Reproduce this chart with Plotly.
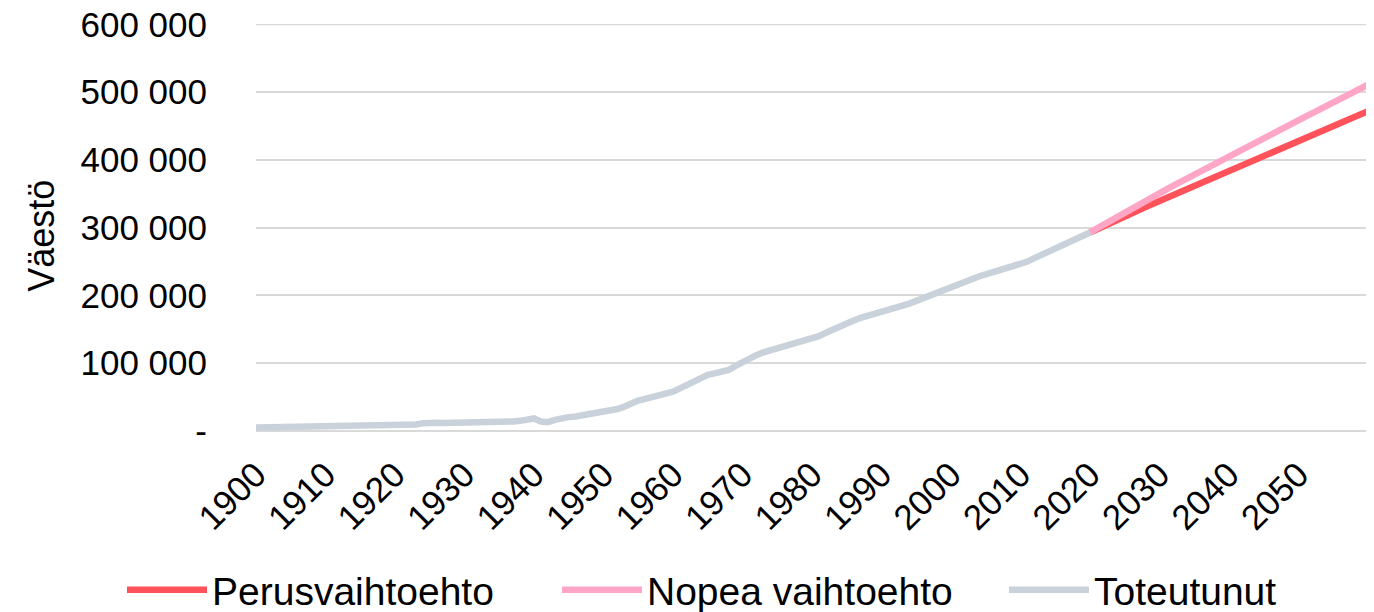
import plotly.graph_objects as go

# ---- data ----
years_hist = list(range(1900, 2021))
toteutunut = [
    5300, 5500, 5700, 5900, 6100, 6300, 6500, 6700, 7000, 7200,          # 1900-1909
    7500, 7800, 8000, 8200, 8400, 8600, 8900, 9300, 9200, 9000,          # 1910-1919
    8800, 8500, 8600, 9500, 11500, 12500, 12200, 11800, 11800, 12000,    # 1920-1929
    12300, 12000, 11800, 11700, 11900, 12300, 13000, 14000, 15000, 16500,  # 1930-1939
    18500, 14000, 13000, 16500, 19500, 20500, 21500, 23000, 24500, 26500,  # 1940-1949
    28500, 30500, 32500, 36000, 41000, 45000, 47500, 50000, 51500, 54000,  # 1950-1959
    58000, 63000, 68000, 74000, 79000, 83000, 85000, 87000, 90000, 96000,  # 1960-1969
    102000, 108000, 112000, 116000, 119000, 122000, 125000, 128000, 130000, 132500,  # 1970-1979
    136000, 140000, 145000, 150000, 154000, 158000, 163000, 167000, 170000, 172500,  # 1980-1989
    174500, 177500, 181000, 185000, 188000, 192000, 196000, 200000, 205000, 209000,  # 1990-1999
    214000, 218000, 221000, 225000, 228000, 231000, 234000, 237000, 240000, 243000,  # 2000-2009
    246000, 250000, 255000, 260000, 265000, 270000, 275000, 279000, 284000, 289000,  # 2010-2019
    293000,                                                              # 2020
]

years_proj = list(range(2020, 2061))
perusvaihtoehto = [
    293000, 298000, 303000, 308000, 312500, 317000, 321500, 326000, 330500, 335000,
    339500, 344000, 348500, 353000, 357000, 361500, 366000, 370500, 375000, 379500,
    384000, 388500, 393000, 397500, 402000, 406500, 411000, 415500, 420000, 424000,
    428500, 433000, 437000, 441500, 446000, 450000, 454500, 459000, 463000, 467500,
    472000,
]
nopea_vaihtoehto = [
    293000, 299000, 305000, 311000, 317000, 323000, 329000, 334500, 340000, 345500,
    351000, 356500, 362000, 367500, 373000, 378500, 384000, 389500, 395000, 400500,
    406000, 411000, 416500, 422000, 427000, 432500, 437500, 443000, 448000, 453500,
    458500, 464000, 469000, 474500, 479500, 485000, 490000, 495500, 500500, 506000,
    511000,
]

y_tickvals = [0, 100000, 200000, 300000, 400000, 500000, 600000]
y_ticktext = ["-", "100 000", "200 000", "300 000", "400 000", "500 000", "600 000"]
x_tickvals = list(range(1900, 2060, 10))
x_ticktext = [str(v) for v in x_tickvals]

FONT = "Liberation Sans, Arial, sans-serif"
# page body has an 8px margin, so the figure is drawn 8px smaller
W, H = 1366, 604
GRID = "#D9D9D9"

fig = go.Figure()
fig.add_trace(go.Scatter(x=years_proj, y=perusvaihtoehto, mode="lines",
                         name="Perusvaihtoehto", legend="legend",
                         line=dict(color="#FF525A", width=6.5)))
fig.add_trace(go.Scatter(x=years_proj, y=nopea_vaihtoehto, mode="lines",
                         name="Nopea vaihtoehto", legend="legend2",
                         line=dict(color="#FFA6C6", width=6.5)))
fig.add_trace(go.Scatter(x=years_hist, y=toteutunut, mode="lines",
                         name="Toteutunut", legend="legend3",
                         line=dict(color="#C9D2DA", width=6.5)))


def leg(xpx):
    return dict(orientation="h", xref="container", x=xpx / W, xanchor="left",
                yref="container", y=22 / H, yanchor="middle",
                font=dict(size=39), itemwidth=80, bgcolor="rgba(0,0,0,0)")


fig.update_layout(
    width=W, height=H,
    margin=dict(l=248, r=6, t=16, b=181, autoexpand=False),
    paper_bgcolor="white", plot_bgcolor="white",
    font=dict(family=FONT, size=35, color="#000000"),
    showlegend=True,
    legend=leg(114), legend2=leg(549), legend3=leg(996),
    annotations=[dict(text="Väestö", xref="paper", yref="paper",
                      x=-0.1924, y=0.48, textangle=-90, showarrow=False,
                      font=dict(size=36), xanchor="center", yanchor="middle")],
    shapes=[dict(type="line", xref="paper", yref="y", x0=0, x1=1,
                 y0=y_tickvals[-1], y1=y_tickvals[-1], layer="below",
                 line=dict(color=GRID, width=1.5))],
)
fig.update_xaxes(range=[1900, 2060], tickvals=x_tickvals, ticktext=x_ticktext,
                 tickangle=-45, showgrid=False, showline=False, zeroline=False,
                 ticks="outside", ticklen=8, tickcolor="rgba(0,0,0,0)",
                 tickfont=dict(size=35), automargin=False)
fig.update_yaxes(range=[0, 600600], tickvals=y_tickvals, ticktext=y_ticktext,
                 showgrid=True, gridcolor=GRID, gridwidth=1.5,
                 zeroline=True, zerolinecolor=GRID, zerolinewidth=1.5,
                 showline=False, ticks="outside", ticklen=41,
                 tickcolor="rgba(0,0,0,0)", tickfont=dict(size=35),
                 ticklabeloverflow="allow", automargin=False)

fig.write_html("out.html")
